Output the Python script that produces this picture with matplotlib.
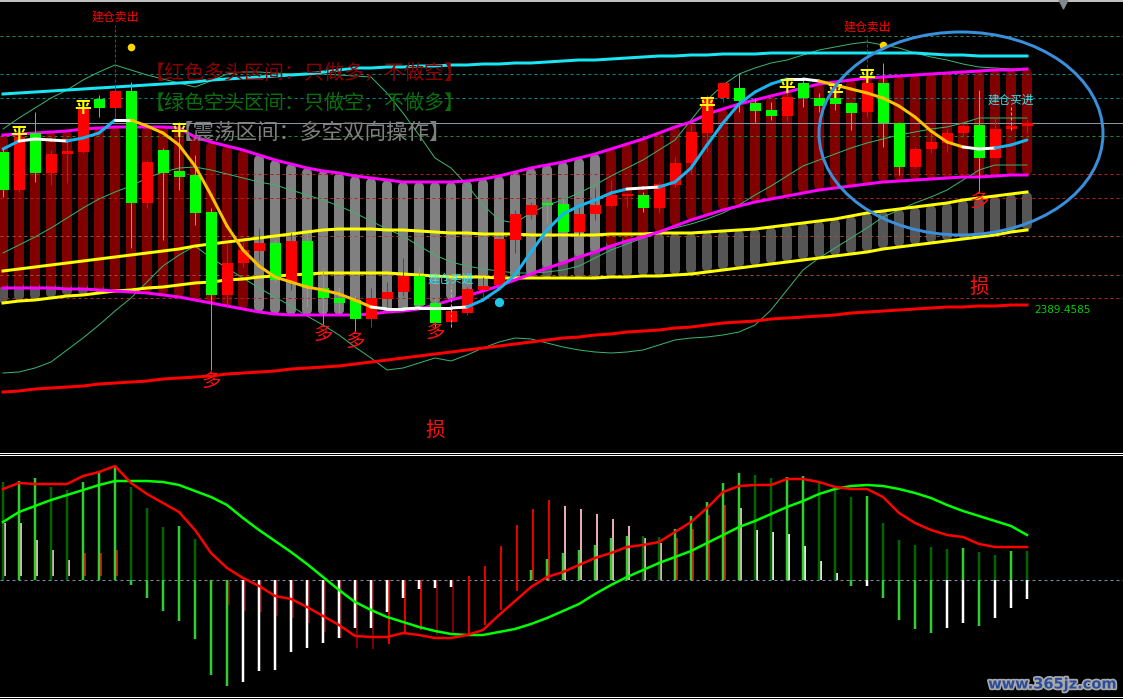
import numpy as np
import matplotlib
matplotlib.use('Agg')
import matplotlib.pyplot as plt
from matplotlib.patches import Ellipse
from matplotlib.lines import Line2D
from matplotlib.collections import LineCollection
import matplotlib.patheffects as pe

plt.rcParams['font.family'] = ['Noto Sans CJK SC', 'DejaVu Sans']

# ---- candles (price in chart points) ----
opens = [298,260,317,277,296,298,351,342,359,247, 300,279,275,238,155,187,199,207,168,209,
         162,152,150,131,151,158,174,147,128,137, 160,165,210,235,246,246,218,236,244,254,
         255,242,265,287,317,352,362,347,340,334, 367,352,352,347,338,367,327,283,301,307,
         317,325,292,321,324]
closes = [260,313,277,296,299,342,342,359,247,288, 277,273,237,155,187,200,207,170,209,162,
          152,147,131,152,158,174,145,127,139,161, 164,211,236,245,245,218,236,245,255,256,
          242,266,287,318,352,367,349,339,334,353, 352,344,346,337,367,327,283,301,308,317,
          324,292,321,324,327]
highs = [302,325,338,300,312,350,355,365,368,290, 302,328,295,242,207,208,222,210,217,217,
         182,163,155,162,168,192,183,152,142,163, 173,212,240,248,248,251,245,262,270,257,
         258,268,293,325,355,368,377,352,348,370, 371,357,363,348,382,387,328,303,320,321,
         327,360,332,328,330]
lows = [253,258,268,265,267,297,333,332,202,242, 210,260,225,80,142,183,190,168,160,143,
        125,137,118,123,141,154,142,123,123,135, 153,163,197,231,227,217,215,230,243,243,
        238,237,263,277,298,348,338,328,330,329, 343,338,340,320,333,303,275,282,297,298,
        313,257,292,320,317]

# ---- trend band (magenta) and channel (yellow) ----
band_top = [315,316,317,318,319,321,322,323,323,323, 323,322,313,308,304,300,295,290,286,282,
            279,277,274,272,270,268,268,268,268,269, 271,274,278,282,285,288,292,296,301,306,
            311,317,323,328,336,341,346,350,354,358, 362,366,368,370,372,373,374,375,376,377,
            378,379,380,380,381]
band_bot = [162,162,162,162,161,161,160,159,158,157, 155,153,150,147,144,141,138,136,135,135,
            135,135,135,136,138,139,141,145,150,154, 159,164,170,176,182,187,193,198,204,209,
            213,218,224,230,235,240,244,248,251,254, 257,260,262,264,266,268,269,270,271,272,
            273,273,274,275,275]
# zone of each bar: 'L' long (red), 'R' range (grey)
zone = 'L' * 16 + 'R' * 22 + 'L' * 27
chan_top = [179,181,183,185,187,189,191,193,195,197, 199,201,204,206,208,210,212,214,216,218,
            220,221,221,221,220,220,219,218,217,217, 216,216,216,215,215,215,215,215,216,216,
            216,217,217,217,218,219,220,221,223,225, 227,229,231,234,237,239,241,243,245,247,
            250,252,254,256,258]
chan_bot = [147,149,150,152,154,155,157,159,160,162, 163,165,167,168,170,171,173,174,175,176,
            177,177,177,177,177,176,175,174,173,173, 173,172,172,172,172,172,172,172,173,173,
            174,174,175,176,178,180,182,184,186,188, 190,192,194,196,198,201,203,205,207,209,
            211,213,215,218,220]
long_ma = [356,357,358,359,360,361,362,363,364,365, 366,367,368,370,371,372,373,374,375,376,
           378,380,382,382,383,383,384,384,385,385, 386,386,387,387,388,389,390,390,391,392,
           393,394,394,395,395,396,396,396,397,397, 397,397,397,397,397,397,397,397,396,395,
           395,394,394,394,394]
stop_line = [58,59,61,62,63,64,66,67,68,69, 71,72,73,74,76,77,78,79,81,82,
             83,84,86,88,90,92,94,96,98,100, 102,104,106,108,110,112,113,115,116,118,
             119,120,122,123,125,127,128,129,131,132, 133,134,135,137,138,139,140,141,142,143,
             143,144,144,145,145]
boll_up = [321,332,342,352,360,370,378,385,380,375, 371,367,363,369,376,378,378,377,376,376,
           376,375,374,373,357,337,315,292,282,265, 245,230,227,237,245,250,257,265,274,282,
           290,300,310,330,350,365,376,382,387,390, 395,400,403,406,408,405,402,397,393,390,
           386,383,382,381,381]
boll_mid = [197,205,213,222,232,242,251,258,264,272, 278,282,283,280,276,272,268,265,260,255,
            250,244,237,229,221,214,204,195,188,184, 181,179,177,177,178,180,184,192,200,206,
            212,218,222,226,231,237,245,255,264,274, 284,290,296,302,307,311,315,318,321,323,
            327,332,332,332,332]
boll_low = [77,78,82,88,100,112,125,139,152,168, 184,195,204,192,182,172,162,153,144,134,
            125,115,103,92,80,82,87,92,89,95, 102,108,112,111,107,103,100,98,97,98,
            100,105,110,112,113,115,118,125,140,160, 180,192,202,212,222,233,240,247,253,260,
            270,280,285,285,285]
swing_ma = [301,309,311,310,309,312,317,330,330,324, 317,305,284,255,224,200,184,173,168,163,
            160,156,150,143,141,141,142,142,142,143, 150,161,175,198,220,236,244,250,257,261,
            262,263,268,282,305,327,346,358,366,371, 371,369,365,361,357,352,344,333,319,308,
            303,301,302,305,310]
levels = [414, 376, 352, 327, 314, 276, 252, 214, 175, 152]
last_price = '2389.4585'

# ---- signals ----
sell_at, sell_h = [7, 54], [433, 423]
buy_at, buy_h = [28, 63], [171, 350]
ping_at = [1, 5, 11, 44, 49, 52, 54]
ping_h = [316, 342, 319, 345, 363, 358, 373]
duo_at = [13, 20, 22, 27, 61]
duo_h = [68, 115, 108, 117, 248]
sun_at = [27, 61]
sun_h = [20, 163]

# ---- lower indicator ----
fast = [91,97,96,96,96,104,108,114,97,86, 77,68,50,27,12,2,-6,-16,-19,-27,
        -36,-45,-56,-57,-57,-53,-55,-58,-58,-55, -50,-35,-21,-7,3,8,15,22,27,33,
        35,38,48,58,72,88,94,95,95,101, 101,98,93,91,91,83,67,57,50,45,
        43,36,33,33,33]
slow = [58,68,74,80,85,90,95,99,99,99, 98,95,89,83,75,62,50,39,28,16,
        3,-10,-22,-30,-37,-42,-47,-51,-54,-55, -55,-52,-49,-44,-38,-31,-24,-14,-5,3,
        10,17,23,29,37,45,53,59,66,73, 79,86,91,94,95,94,91,87,82,75,
        69,64,59,54,45]
hist_pos = [98,99,102,93,90,98,108,114,93,72, 53,54,41,0,0,0,0,0,0,0,
            0,0,0,0,0,0,0,0,0,0, 0,0,0,10,21,27,30,35,42,44,
            44,43,51,64,78,97,107,105,102,103, 104,97,93,83,84,57,40,35,33,31,
            32,28,25,29,29]
hist_neg = [0,0,0,0,0,0,0,0,-5,-18, -31,-41,-59,-95,-106,-102,-91,-90,-72,-68,
            -63,-58,-48,-48,-32,-18,-9,-8,-7,0, 0,0,0,0,0,0,0,0,0,0,
            0,0,0,0,0,0,0,0,0,0, 0,0,0,-6,-6,-18,-40,-49,-53,-48,
            -43,-46,-38,-28,-19]
thin_top = [57,57,40,30,20,27,27,30,0,0, 0,0,0,0,0,0,0,0,0,0,
            0,0,0,0,0,0,0,0,0,4, 14,34,55,71,80,74,71,66,61,54,
            42,37,42,51,65,75,72,50,48,46, 34,19,7,0,0,0,0,0,0,0,
            0,0,0,0,0]
thin_bot = [4,4,4,4,4,4,4,4,0,0, 0,0,0,0,-25,-31,-32,-36,-38,-43,
            -52,-58,-68,-69,-64,-53,-50,-55,-53,-53, -45,-30,-11,0,0,0,0,0,0,0,
            0,0,0,0,0,0,0,0,0,0, 0,0,0,0,0,0,0,0,0,0,
            0,0,0,0,0]
thin_kind = ('ppppp' 'rrr' '------' 'dddddddddd' 'rrr' 'dd' 'rrrrrr'
             'ppppppp' 'rrrr' 'p' 'wwwwww' '------------')

n = len(opens)
idx = np.arange(n)
PX = 0.72  # points per pixel at 100 dpi

fig = plt.figure(figsize=(11.23, 6.99), dpi=100, facecolor='black')
ax = fig.add_axes([0, 248/699, 1, 451/699])
ax2 = fig.add_axes([0, 2/699, 1, 241/699])
for a in (ax, ax2):
    a.set_facecolor('black')
    a.set_axis_off()
    a.set_xlim(-3/16, 1120/16)
ax.set_ylim(-1, 450)
ax2.set_ylim(-117, 124)

# columns
ct, cb = np.array(chan_top), np.array(chan_bot)
ax.vlines(idx, cb + 5, ct - 5, colors='#555555', lw=10*PX, capstyle='round', zorder=1)
bt, bb = np.array(band_top), np.array(band_bot)
zcol = ['#800000' if z == 'L' else '#808080' for z in zone]
ax.vlines(idx, bb + 5, bt - 5, colors=zcol, lw=10*PX, capstyle='round', zorder=2)

# level lines
lev_col = ['#2E8B57', '#008B8B', '#008B8B', '#8C96A0', '#228B22',
           '#B22222', '#B22222', '#A0522D', '#A0522D', '#B22222']
for v, c in zip(levels, lev_col):
    ls = '-' if c == '#8C96A0' else (0, (3, 3))
    ax.axhline(v, color=c, lw=1*PX, ls=ls, zorder=3)
ax.axhline(449, color='white', lw=1.5*PX, zorder=3)

# thin bollinger lines
for line in (boll_up, boll_mid, boll_low):
    ax.plot(idx, line, color='#3CB371', lw=1*PX, zorder=4)

ax.plot(idx, chan_top, color='#FFFF00', lw=3*PX, zorder=5)
ax.plot(idx, chan_bot, color='#FFFF00', lw=3*PX, zorder=5)
ax.plot(idx, band_top, color='#FF00FF', lw=3*PX, zorder=5)
ax.plot(idx, band_bot, color='#FF00FF', lw=3*PX, zorder=5)
ax.plot(idx, long_ma, color='#18E6F5', lw=3*PX, zorder=5)
ax.plot(idx, stop_line, color='#FF0000', lw=3*PX, zorder=5)

# candles
o, c = np.array(opens), np.array(closes)
ccol = np.where(c >= o, '#FF0000', '#00FF00')
ax.vlines(idx, lows, highs, colors=ccol, lw=1*PX, zorder=6)
ax.bar(idx, np.maximum(np.abs(c - o), 2), bottom=np.minimum(o, c), width=11/16,
       color=ccol, linewidth=0, zorder=7)

# swing line coloured by slope
sm = np.array(swing_ma)
segs = [[(i, sm[i]), (i + 1, sm[i + 1])] for i in range(n - 1)]
d = np.diff(sm)
scol = ['#18B4F0' if x > 2 else ('#FFC000' if x < -2 else 'white') for x in d]
ax.add_collection(LineCollection(segs, colors=scol, lw=3*PX, capstyle='round', zorder=8))

# signals
for b, h in zip(sell_at, sell_h):
    ax.text(b, h, '建仓卖出', color='#FF0000', fontsize=8.6, ha='center', va='center', zorder=9)
    ax.vlines(b, h - 90 if b < 20 else h - 45, h - 8, colors='#FF0000', lw=1*PX,
              linestyles=(0, (3, 2)), zorder=9)
for b, h in zip(buy_at, buy_h):
    ax.text(b, h, '建仓买进', color='#2EE6F0', fontsize=8.4, ha='center', va='center', zorder=9)
    ax.vlines(b, h - 48 if b < 40 else h - 30, h - 7, colors='#2EE6F0', lw=1*PX,
              linestyles=(0, (3, 2)), zorder=9)
ax.scatter([8, 55], [403, 405], s=30, color='#FFD700', zorder=9, linewidths=0)
ax.scatter([31], [148], s=45, color='#1EC8E6', zorder=9, linewidths=0)

# zone notes
ax.text(142/16, 377, '【红色多头区间：只做多，不做空】', color='#8B0000', fontsize=14.4,
        va='center', ha='left', zorder=9)
ax.text(142/16, 347, '【绿色空头区间：只做空，不做多】', color='#0A6E0A', fontsize=14.4,
        va='center', ha='left', zorder=9)
ax.text(169/16, 317, '【震荡区间：多空双向操作】', color='#808080', fontsize=15.5,
        va='center', ha='left', zorder=9)

for b, h in zip(ping_at, ping_h):
    ax.text(b, h, '平', color='#FFFF00', fontsize=12, fontweight='bold',
            ha='center', va='center', zorder=10)
for b, h in zip(duo_at, duo_h):
    ax.text(b, h, '多', color='#FF1010', fontsize=14, ha='center', va='center', zorder=10)
for b, h in zip(sun_at, sun_h):
    ax.text(b, h, '损', color='#FF1010', fontsize=14, ha='center', va='center', zorder=10)

ax.text(n - 1 + 7/16, stop_line[-1] - 5, last_price, color='#00D000', fontsize=7.5,
        ha='left', va='center', family='DejaVu Sans', zorder=10)
ax.scatter([66.25], [446], marker='v', s=40, color='#808890', zorder=10)

ax.add_patch(Ellipse((958/16, 316.5), 284/16, 203, fill=False, ec='#3A8FDB',
                     lw=3*PX, zorder=11))

# ---- lower panel ----
ax2.axhline(0, color='#8090A0', lw=1*PX, ls=(0, (3, 3)), zorder=1)

tcol = {'p': '#FFC0CB', 'r': '#FF0000', 'd': '#8B0000', 'w': '#FFFFFF'}
for i in range(n):
    k = thin_kind[i]
    if k != '-':
        ax2.vlines(i + 1.5/16, thin_bot[i], thin_top[i], colors=tcol[k], lw=1.8*PX, zorder=2)

for i in range(n):
    if hist_pos[i] > 0:
        prev = hist_pos[i - 1] if i > 0 else hist_pos[i]
        col = '#32CD32' if hist_pos[i] > prev else '#006400'
        ax2.vlines(i, 0, hist_pos[i], colors=col, lw=2.5*PX, zorder=3)
    if hist_neg[i] < 0:
        prev = hist_neg[i - 1] if i > 0 else 0
        col = '#FFFFFF' if hist_neg[i] >= prev else '#32CD32'
        ax2.vlines(i, 0, hist_neg[i], colors=col, lw=2.5*PX, zorder=3)

ax2.plot(idx, slow, color='#00FF00', lw=2.5*PX, zorder=4)
ax2.plot(idx, fast, color='#FF0000', lw=2.5*PX, zorder=4)

# separators
for yy in (453, 455, 697):
    fig.add_artist(Line2D([0, 1], [1 - yy/699, 1 - yy/699], color='white', lw=1*PX))

fig.text(1117/1123, 1 - 684/699, 'www.365jz.com', color='#2B4C9B', fontsize=10.5,
         fontweight='bold', family='DejaVu Sans', ha='right', va='center',
         path_effects=[pe.withStroke(linewidth=2.5, foreground='#A8A8A8')])

fig.savefig('out.png', dpi=100, facecolor='black')
